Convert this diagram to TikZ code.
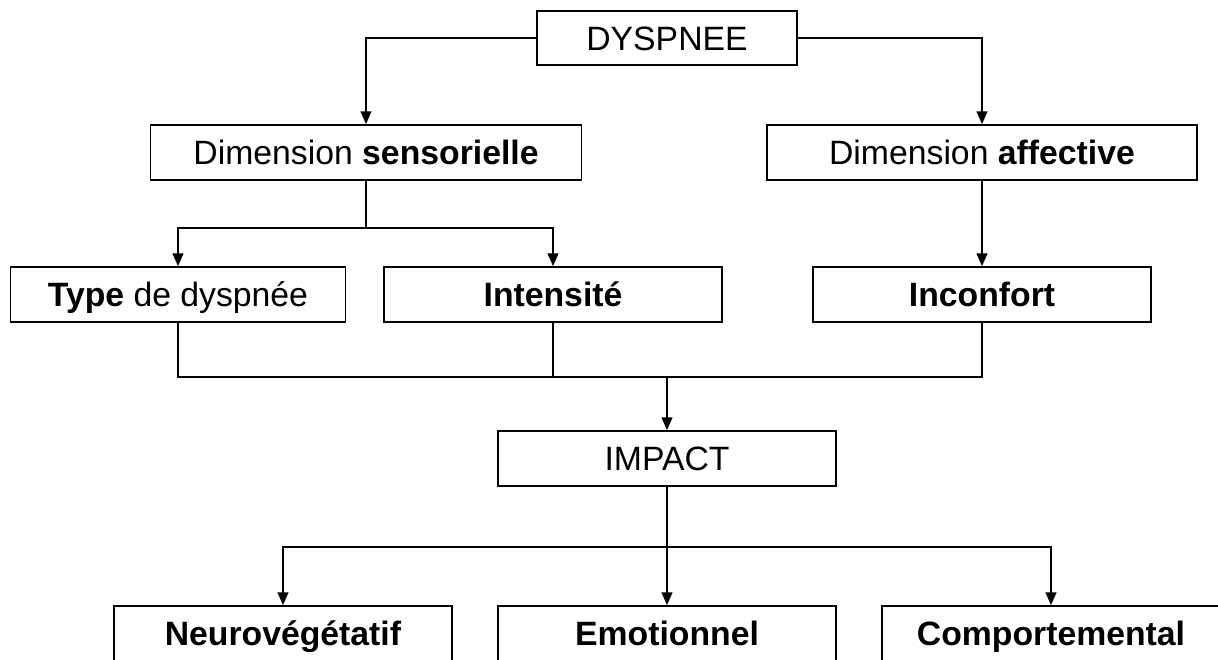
\documentclass[tikz,border=0pt]{standalone}
\usepackage{fontspec}
\setmainfont{Liberation Sans}
\usepackage{tikz}
\usetikzlibrary{arrows.meta,positioning,calc}

\begin{document}
\begin{tikzpicture}[x=0.025cm,y=-0.025cm,
	box/.style={draw,line width=1.2pt,inner sep=0pt,text height=17.2pt,text depth=0pt,minimum width=8.45cm,minimum height=1.375cm,font=\fontsize{24}{28}\selectfont},
	arr/.style={line width=1.2pt,-{Triangle[length=0.32cm,width=0.27cm]}},
	ln/.style={line width=1.2pt}]
	\useasboundingbox (0,0) rectangle (1218,659);
	\clip (0,0) rectangle (1218,659);
	\node[box,minimum width=6.5cm,minimum height=1.35cm] (dysp) at (667,38) {DYSPNEE};
	\node[box,minimum width=10.775cm] (sens) at (366,152.5) {Dimension \textbf{sensorielle}};
	\node[box,minimum width=10.75cm] (aff) at (982,152.5) {Dimension \textbf{affective}};
	\node[box,minimum width=8.375cm] (type) at (178,294.5) {\textbf{Type} de dyspnée};
	\node[box] (inten) at (553,294.5) {\textbf{Intensité}};
	\node[box] (incon) at (982,294.5) {\textbf{Inconfort}};
	\node[box] (impact) at (667,458.5) {IMPACT};
	\node[box] (neuro) at (283,633.5) {\textbf{Neurovégétatif}};
	\node[box] (emo) at (667,633.5) {\textbf{Emotionnel}};
	\node[box] (comp) at (1051,633.5) {\textbf{Comportemental}};
	\coordinate (s1) at (366,228);
	\coordinate (j) at (667,377);
	\coordinate (k) at (667,547);
	\draw[arr] (dysp.west) -| (sens.north);
	\draw[arr] (dysp.east) -| (aff.north);
	\draw[ln] (sens.south) -- (s1);
	\draw[arr] (s1) -| (type.north);
	\draw[arr] (s1) -| (inten.north);
	\draw[arr] (aff.south) -- (incon.north);
	\draw[ln] (type.south) |- (j) -| (incon.south);
	\draw[ln] (inten.south) -- (inten.south |- j);
	\draw[arr] (j) -- (impact.north);
	\draw[ln] (impact.south) -- (k);
	\draw[arr] (k) -| (neuro.north);
	\draw[arr] (k) -| (comp.north);
	\draw[arr] (k) -- (emo.north);
\end{tikzpicture}
\end{document}
